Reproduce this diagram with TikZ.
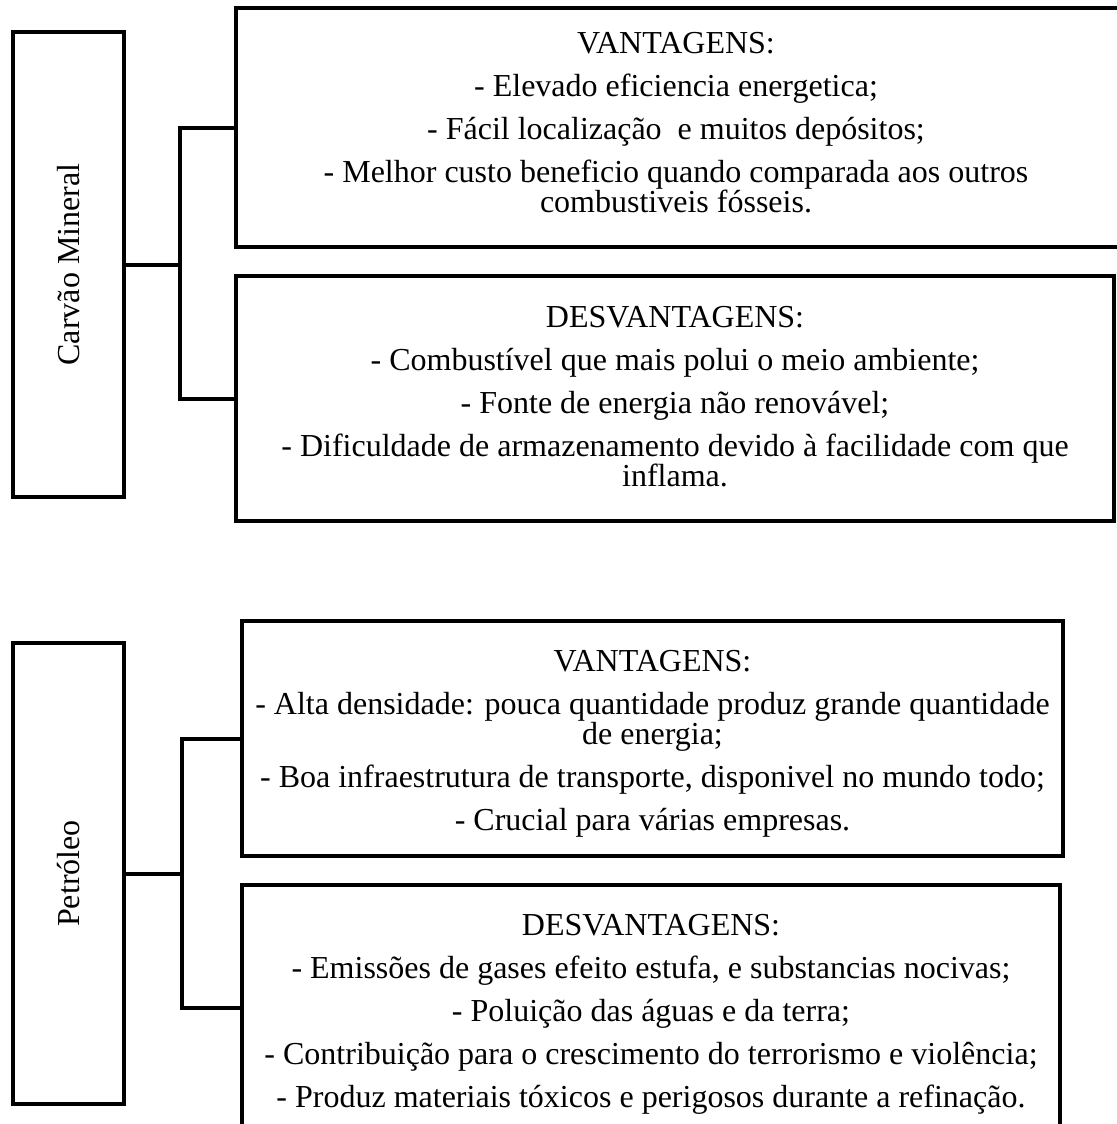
\documentclass[tikz,border=0pt]{standalone}
\usepackage{fontspec}
\setmainfont{Liberation Serif}
\newcommand\myfont{\fontsize{32}{30}\selectfont}
\tikzset{
  box/.style={draw, line width=4pt, inner sep=0pt},
  conn/.style={line width=4pt},
  txt/.style={align=center, inner sep=0pt, anchor=north, font=\myfont},
  side/.style={inner sep=0pt, rotate=90, font=\myfont}
}
\begin{document}
\begin{tikzpicture}[x=1pt,y=-1pt]
\useasboundingbox (0,0) rectangle (1116,1124);
% --- Carvao Mineral ---
\node[box, minimum width=111pt, minimum height=465pt] (carvao) at (68.5,264.5) {};
\node[side] (carvaotxt) at (carvao.center) {Carvão Mineral};
\node[box, minimum width=886pt, minimum height=239pt] (vant1) at (679,127.5) {};
\node[box, minimum width=878pt, minimum height=245pt] (desv1) at (675,398.5) {};
\node[txt] (vant1txt) at (676,32) {VANTAGENS:\\[13pt]
- Elevado eficiencia energetica;\\[13pt]
- Fácil localização~ e muitos depósitos;\\[13pt]
- Melhor custo beneficio quando comparada aos outros\\
combustiveis fósseis.};
\node[txt] (desv1txt) at (675,306) {DESVANTAGENS:\\[13pt]
- Combustível que mais polui o meio ambiente;\\[13pt]
- Fonte de energia não renovável;\\[13pt]
- Dificuldade de armazenamento devido à facilidade com que\\
inflama.};
\coordinate (j1) at (180,264.5);
\draw[conn] (carvao.east) -- (j1);
\draw[conn] (vant1.west) -| (j1) |- (desv1.west);
% --- Petroleo ---
\node[box, minimum width=111pt, minimum height=461pt] (petro) at (68.5,873.5) {};
\node[side] (petrotxt) at (petro.center) {Petróleo};
\node[box, minimum width=821pt, minimum height=235pt] (vant2) at (652.5,738.5) {};
\node[box, minimum width=818pt, minimum height=246pt] (desv2) at (651,1008) {};
\node[txt] (vant2txt) at (652.5,650) {VANTAGENS:\\[13pt]
- Alta densidade: pouca quantidade produz grande quantidade\\
de energia;\\[13pt]
- Boa infraestrutura de transporte, disponivel no mundo todo;\\[13pt]
- Crucial para várias empresas.};
\node[txt] (desv2txt) at (651,914) {DESVANTAGENS:\\[13pt]
- Emissões de gases efeito estufa, e substancias nocivas;\\[13pt]
- Poluição das águas e da terra;\\[13pt]
- Contribuição para o crescimento do terrorismo e violência;\\[13pt]
- Produz materiais tóxicos e perigosos durante a refinação.};
\coordinate (j2) at (182,873.5);
\draw[conn] (petro.east) -- (j2);
\draw[conn] (vant2.west) -| (j2) |- (desv2.west);
\end{tikzpicture}
\end{document}
